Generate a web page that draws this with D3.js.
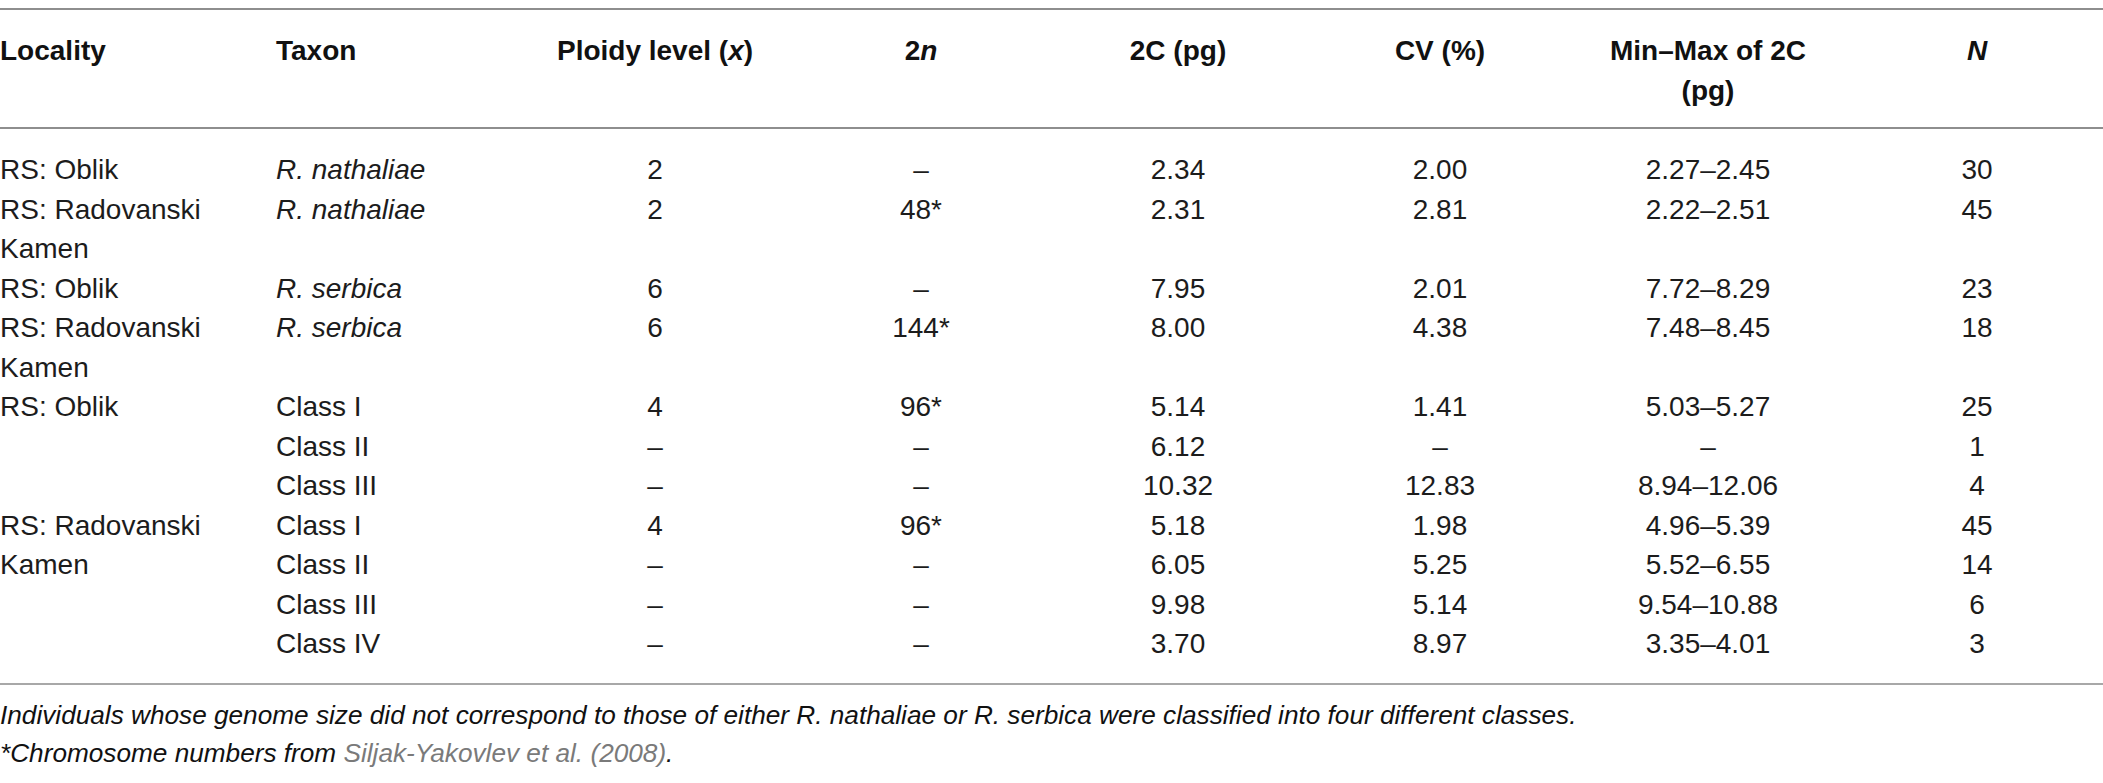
<!DOCTYPE html>
<html>
<head>
<meta charset="utf-8">
<script src="https://cdn.jsdelivr.net/npm/d3@7/dist/d3.min.js"></script>
<style>
  html, body { margin: 0; padding: 0; background: #fff; }
  svg text { font-family: "Liberation Sans", Arial, Helvetica, sans-serif; }
</style>
</head>
<body>
<div id="table"></div>
<script>
// table content, one array per column
var localities = ["RS: Oblik", "RS: Radovanski Kamen", "RS: Oblik", "RS: Radovanski Kamen",
                  "RS: Oblik", "", "", "RS: Radovanski Kamen", "", "", ""];
var taxa = ["R. nathaliae", "R. nathaliae", "R. serbica", "R. serbica",
            "Class I", "Class II", "Class III", "Class I", "Class II", "Class III", "Class IV"];
var ploidy = ["2", "2", "6", "6", "4", "–", "–", "4", "–", "–", "–"];
var chromosomes = ["–", "48*", "–", "144*", "96*", "–", "–", "96*", "–", "–", "–"];
var genome2C = ["2.34", "2.31", "7.95", "8.00", "5.14", "6.12", "10.32", "5.18", "6.05", "9.98", "3.70"];
var cv = ["2.00", "2.81", "2.01", "4.38", "1.41", "–", "12.83", "1.98", "5.25", "5.14", "8.97"];
var minMax = ["2.27–2.45", "2.22–2.51", "7.72–8.29", "7.48–8.45", "5.03–5.27", "–",
              "8.94–12.06", "4.96–5.39", "5.52–6.55", "9.54–10.88", "3.35–4.01"];
var counts = ["30", "45", "23", "18", "25", "1", "4", "45", "14", "6", "3"];

// header: arrays of lines, each line a list of [text, italic] parts
var headers = [
  {key: "locality", lines: [[["Locality", false]]]},
  {key: "taxon", lines: [[["Taxon", false]]]},
  {key: "ploidy", lines: [[["Ploidy level (", false], ["x", true], [")", false]]]},
  {key: "chrom", lines: [[["2", false], ["n", true]]]},
  {key: "c2", lines: [[["2C (pg)", false]]]},
  {key: "cv", lines: [[["CV (%)", false]]]},
  {key: "minmax", lines: [[["Min–Max of 2C", false]], [["(pg)", false]]]},
  {key: "n", lines: [[["N", true]]]}
];

var footnote1 = "Individuals whose genome size did not correspond to those of either R. nathaliae or R. serbica were classified into four different classes.";
var footnote2 = [["*Chromosome numbers from ", "#111"], ["Siljak-Yakovlev et al. (2008)", "#7a7a7a"], [".", "#111"]];

var width = 2103, height = 783;
var fontSize = 28, noteSize = 26.2;

var svg = d3.select("#table").append("svg")
    .attr("width", width)
    .attr("height", height);

// column anchors
var colX = d3.scaleOrdinal()
    .domain(["locality", "taxon", "ploidy", "chrom", "c2", "cv", "minmax", "n"])
    .range([0, 276, 655, 921, 1178, 1440, 1708, 1977]);
var leftCols = ["locality", "taxon"];

// rules
var rules = [9, 128, 684];
svg.selectAll("line.rule")
    .data(rules)
    .enter().append("line")
    .attr("class", "rule")
    .attr("x1", 0).attr("x2", width)
    .attr("y1", d => d).attr("y2", d => d)
    .attr("stroke", (d, i) => i == 2 ? "#a8a8a8" : "#8e8e8e")
    .attr("stroke-width", 2);

// header
var headY = d3.scaleLinear().domain([0, 1]).range([60, 99.5]);
headers.forEach(function(h) {
  h.lines.forEach(function(parts, li) {
    var t = svg.append("text")
        .attr("x", colX(h.key))
        .attr("y", headY(li))
        .attr("text-anchor", leftCols.indexOf(h.key) >= 0 ? "start" : "middle")
        .attr("font-size", fontSize)
        .attr("font-weight", "bold")
        .attr("fill", "#111");
    parts.forEach(function(p) {
      t.append("tspan").attr("font-style", p[1] ? "italic" : "normal").text(p[0]);
    });
  });
});

// body: work out which line slot each row starts on
function wrapWords(text, maxW) {
  if (!text) return [];
  var probe = svg.append("text").attr("font-size", fontSize);
  var words = text.split(" "), lines = [], cur = "";
  words.forEach(function(w) {
    var test = cur ? cur + " " + w : w;
    probe.text(test);
    if (probe.node().getComputedTextLength() > maxW && cur) {
      lines.push(cur);
      cur = w;
    } else cur = test;
  });
  lines.push(cur);
  probe.remove();
  return lines;
}

var locLines = localities.map(d => wrapWords(d, 255));
var startSlot = [], slot = 0;
locLines.forEach(function(lines, i) {
  startSlot.push(slot);
  var nextEmpty = i + 1 < localities.length && localities[i + 1] == "";
  slot += nextEmpty ? 1 : Math.max(1, lines.length);
});

var rowY = d3.scaleLinear().domain([0, 12]).range([179, 653]);

var bodyCols = [
  {key: "taxon", values: taxa},
  {key: "ploidy", values: ploidy},
  {key: "chrom", values: chromosomes},
  {key: "c2", values: genome2C},
  {key: "cv", values: cv},
  {key: "minmax", values: minMax},
  {key: "n", values: counts}
];

// locality cells (wrapped)
locLines.forEach(function(lines, i) {
  lines.forEach(function(line, li) {
    svg.append("text")
        .attr("x", colX("locality"))
        .attr("y", rowY(startSlot[i] + li))
        .attr("font-size", fontSize)
        .attr("fill", "#1c1c1c")
        .text(line);
  });
});

bodyCols.forEach(function(c) {
  svg.selectAll("text.c-" + c.key)
      .data(c.values)
      .enter().append("text")
      .attr("class", "c-" + c.key)
      .attr("x", colX(c.key))
      .attr("y", (d, i) => rowY(startSlot[i]))
      .attr("text-anchor", c.key == "taxon" ? "start" : "middle")
      .attr("font-size", fontSize)
      .attr("font-style", d => d.indexOf("R. ") == 0 ? "italic" : "normal")
      .attr("fill", "#1c1c1c")
      .text(d => d);
});

// footnotes
svg.append("text")
    .attr("x", 0).attr("y", 724)
    .attr("font-size", noteSize)
    .attr("font-style", "italic")
    .attr("fill", "#111")
    .text(footnote1);

var fn2 = svg.append("text")
    .attr("x", 0).attr("y", 762)
    .attr("font-size", noteSize)
    .attr("font-style", "italic");
fn2.selectAll("tspan")
    .data(footnote2)
    .enter().append("tspan")
    .attr("fill", d => d[1])
    .text(d => d[0]);
</script>
</body>
</html>
